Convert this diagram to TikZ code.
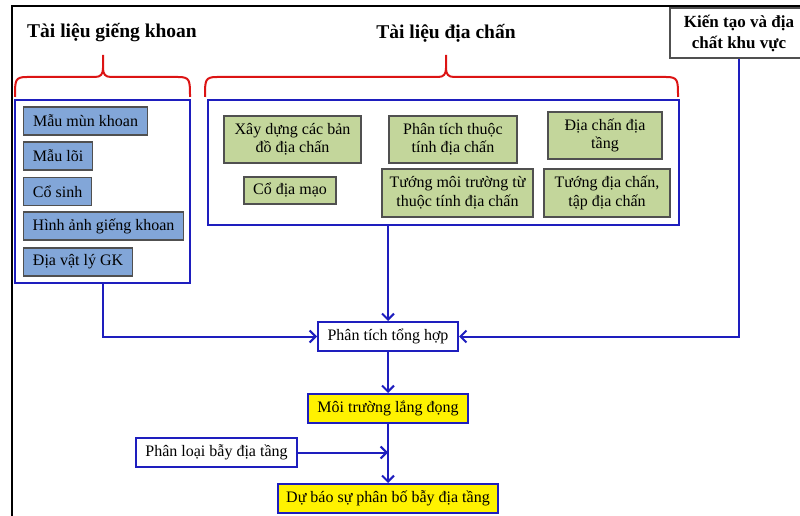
\documentclass[tikz,border=0pt]{standalone}
\usepackage{fontspec}
\setmainfont{Liberation Serif}
\usetikzlibrary{arrows.meta}
\definecolor{lineblue}{RGB}{30,30,190}
\definecolor{itemblue}{RGB}{130,166,216}
\definecolor{itemgreen}{RGB}{195,214,155}
\definecolor{braceRed}{RGB}{220,20,20}
\definecolor{edgegray}{RGB}{80,80,80}
\tikzset{
  txt/.style={font=\fontsize{16}{18.5}\selectfont},
  ttl/.style={font=\fontsize{19.5}{22}\selectfont\bfseries},
  groupbox/.style={draw=lineblue,line width=2pt,fill=white,inner sep=0pt},
  bluebox/.style={txt,draw=edgegray,line width=1.2pt,fill=itemblue,inner sep=0pt,minimum height=28pt,anchor=west},
  greenbox/.style={txt,draw=edgegray,line width=1.2pt,fill=itemgreen,inner sep=0pt,align=center},
  flowbox/.style={txt,draw=lineblue,line width=2pt,inner sep=0pt,minimum height=29pt},
  conn/.style={draw=lineblue,line width=2pt},
  arr/.style={conn,-{Straight Barb[length=6pt,width=12pt]}},
  bracepath/.style={draw=braceRed,line width=2pt}
}
\begin{document}
\begin{tikzpicture}[x=1pt,y=-1pt]
\useasboundingbox (0,0) rectangle (800,516);
% frame
\draw[line width=2.5pt,line cap=rect] (12,516) -- (12,6) -- (800,6);

% titles
\node[ttl] (t1) at (112,33) {Tài liệu giếng khoan};
\node[ttl] (t2) at (446,33) {Tài liệu địa chấn};
\node[font=\fontsize{17}{21}\selectfont\bfseries,draw=edgegray,line width=1.2pt,fill=white,minimum width=138pt,minimum height=50pt,align=center,inner sep=0pt] (kt) at (739,33) {Kiến tạo và địa\\chất khu vực};

% braces
\draw[bracepath] (15,97) .. controls (15,80) and (15,77) .. (27,77) -- (95,77) .. controls (101,77) and (103,74) .. (103,68) -- (103,55)
  (103,68) .. controls (103,74) and (105,77) .. (111,77) -- (178,77) .. controls (190,77) and (190,80) .. (190,97);
\draw[bracepath] (205,97) .. controls (205,80) and (205,77) .. (217,77) -- (438,77) .. controls (444,77) and (446,74) .. (446,68) -- (446,55)
  (446,68) .. controls (446,74) and (448,77) .. (454,77) -- (666,77) .. controls (678,77) and (678,80) .. (678,97);

% group boxes
\node[groupbox,minimum width=175pt,minimum height=183pt] (lbox) at (102.5,191.5) {};
\node[groupbox,minimum width=471pt,minimum height=125pt] (rbox) at (443.5,162.5) {};

% blue items
\node[bluebox,minimum width=124pt] (b1) at (23,121) {Mẫu mùn khoan};
\node[bluebox,minimum width=69pt] (b2) at (23,156) {Mẫu lõi};
\node[bluebox,minimum width=68pt] (b3) at (23,191.5) {Cổ sinh};
\node[bluebox,minimum width=160pt] (b4) at (23,226) {Hình ảnh giếng khoan};
\node[bluebox,minimum width=109pt] (b5) at (23,262) {Địa vật lý GK};

% green items
\node[greenbox,minimum width=137pt,minimum height=47pt] (g1) at (292.5,139.5) {Xây dựng các bản\\đồ địa chấn};
\node[greenbox,minimum width=128pt,minimum height=47pt] (g2) at (453,139.5) {Phân tích thuộc\\tính địa chấn};
\node[greenbox,minimum width=114pt,minimum height=47pt] (g3) at (605,135.5) {Địa chấn địa\\tầng};
\node[greenbox,minimum width=92pt,minimum height=27pt] (g4) at (290,190.5) {Cổ địa mạo};
\node[greenbox,minimum width=151pt,minimum height=48pt] (g5) at (457.5,193) {Tướng môi trường từ\\thuộc tính địa chấn};
\node[greenbox,minimum width=126pt,minimum height=48pt] (g6) at (607,193) {Tướng địa chấn,\\tập địa chấn};

% flow boxes
\node[flowbox,fill=white,minimum width=140pt] (pt) at (388,336.5) {Phân tích tổng hợp};
\node[flowbox,fill=yellow,minimum width=160pt] (mt) at (388,408.5) {Môi trường lắng đọng};
\node[flowbox,fill=white,minimum width=161pt] (pl) at (216.5,452.5) {Phân loại bẫy địa tầng};
\node[flowbox,fill=yellow,minimum width=220pt] (db) at (388,498.5) {Dự báo sự phân bố bẫy địa tầng};

% connectors
\draw[arr] (lbox.south) |- (pt.west);
\draw[arr] (pt.north |- rbox.south) -- (pt.north);
\draw[arr] (kt.south) |- (pt.east);
\draw[arr] (pt.south) -- (mt.north);
\draw[arr] (mt.south) -- (db.north);
\coordinate (plend) at (pl.east -| mt.south);
\draw[arr] (pl.east) -- (plend);
\end{tikzpicture}
\end{document}
